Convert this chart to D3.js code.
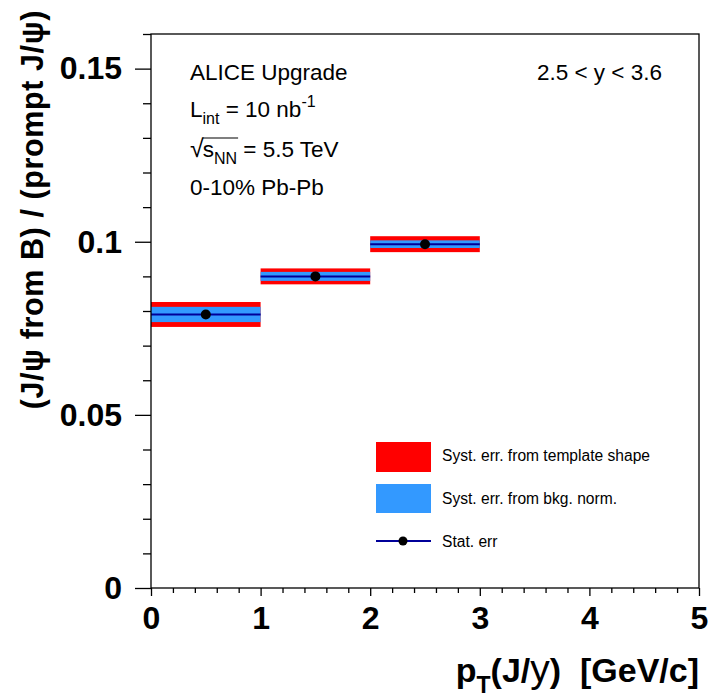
<!DOCTYPE html>
<html>
<head>
<meta charset="utf-8">
<script src="https://cdn.jsdelivr.net/npm/d3@7"></script>
<style>
  body { margin: 0; background: #fff; }
  text { font-family: "Liberation Sans", Arial, Helvetica, sans-serif; }
</style>
</head>
<body>
<svg id="chart" width="711" height="697"></svg>
<script>
// pT bins of the J/psi (GeV/c)
const binLo = [0, 1, 2];
const binHi = [1, 2, 3];
// non-prompt / prompt J/psi ratio per bin
const ratio = [0.0790, 0.0900, 0.0993];
// half-widths of the error bands
const errTemplate = [0.0036, 0.0023, 0.0023];
const errBkg = [0.0022, 0.0013, 0.0011];
const errStat = [0.0003, 0.0003, 0.0003];

const xMajor = [0, 1, 2, 3, 4, 5];
const yMajor = [0, 0.05, 0.1, 0.15];
const yMajorLabels = ["0", "0.05", "0.1", "0.15"];

const legendLabels = ["Syst. err. from template shape", "Syst. err. from bkg. norm.", "Stat. err"];

const RED = "#ff0000", BLUE = "#3399ff", NAVY = "#000099";

const svg = d3.select("#chart");
const x = d3.scaleLinear().domain([0, 5]).range([151, 699]);
const y = d3.scaleLinear().domain([0, 0.16]).range([588, 34]);

const bins = binLo.map((lo, i) => ({
  lo, hi: binHi[i], v: ratio[i], t: errTemplate[i], b: errBkg[i], s: errStat[i]
}));

// error bands
const g = svg.append("g");
g.selectAll("rect.tmpl").data(bins).join("rect").attr("class", "tmpl")
  .attr("x", d => x(d.lo)).attr("width", d => x(d.hi) - x(d.lo))
  .attr("y", d => y(d.v + d.t)).attr("height", d => y(d.v - d.t) - y(d.v + d.t))
  .attr("fill", RED);
g.selectAll("rect.bkg").data(bins).join("rect").attr("class", "bkg")
  .attr("x", d => x(d.lo)).attr("width", d => x(d.hi) - x(d.lo))
  .attr("y", d => y(d.v + d.b)).attr("height", d => y(d.v - d.b) - y(d.v + d.b))
  .attr("fill", BLUE);
// bin-width line and statistical error
g.selectAll("line.bw").data(bins).join("line").attr("class", "bw")
  .attr("x1", d => x(d.lo)).attr("x2", d => x(d.hi))
  .attr("y1", d => y(d.v)).attr("y2", d => y(d.v))
  .attr("stroke", NAVY).attr("stroke-width", 2);
g.selectAll("line.st").data(bins).join("line").attr("class", "st")
  .attr("x1", d => x((d.lo + d.hi) / 2)).attr("x2", d => x((d.lo + d.hi) / 2))
  .attr("y1", d => y(d.v + d.s)).attr("y2", d => y(d.v - d.s))
  .attr("stroke", NAVY).attr("stroke-width", 2);
g.selectAll("circle").data(bins).join("circle")
  .attr("cx", d => x((d.lo + d.hi) / 2)).attr("cy", d => y(d.v))
  .attr("r", 5).attr("fill", "#000");

// frame
svg.append("rect")
  .attr("x", x(0)).attr("y", y(0.16))
  .attr("width", x(5) - x(0)).attr("height", y(0) - y(0.16))
  .attr("fill", "none").attr("stroke", "#000").attr("stroke-width", 1.3);

// x axis
const xMinor = d3.range(0, 5.001, 0.2).filter(v => Math.abs(v - Math.round(v)) > 1e-6);
const xAxisMinor = svg.append("g").attr("transform", `translate(0,${y(0)})`)
  .call(d3.axisBottom(x).tickValues(xMinor).tickSize(5).tickFormat(""));
const xAxis = svg.append("g").attr("transform", `translate(0,${y(0)})`)
  .call(d3.axisBottom(x).tickValues(xMajor).tickSize(8).tickPadding(10).tickFormat(d3.format("d")));
[xAxisMinor, xAxis].forEach(a => {
  a.select(".domain").remove();
  a.selectAll("line").attr("stroke", "#000").attr("stroke-width", 1.3);
});
xAxis.selectAll("text").attr("font-size", 32).attr("font-weight", "bold").attr("fill", "#000");

// y axis
const yMinor = d3.range(0, 0.1601, 0.01).filter(v => Math.abs(v / 0.05 - Math.round(v / 0.05)) > 1e-6);
const yAxisMinor = svg.append("g").attr("transform", `translate(${x(0)},0)`)
  .call(d3.axisLeft(y).tickValues(yMinor).tickSize(8).tickFormat(""));
const yAxis = svg.append("g").attr("transform", `translate(${x(0)},0)`)
  .call(d3.axisLeft(y).tickValues(yMajor).tickSize(16).tickPadding(13)
    .tickFormat((d, i) => yMajorLabels[i]));
[yAxisMinor, yAxis].forEach(a => {
  a.select(".domain").remove();
  a.selectAll("line").attr("stroke", "#000").attr("stroke-width", 1.3);
});
yAxis.selectAll("text").attr("font-size", 32).attr("font-weight", "bold").attr("fill", "#000");

// axis titles
const xt = svg.append("text").attr("x", 699).attr("y", 682)
  .attr("text-anchor", "end").attr("font-size", 34).attr("font-weight", "bold");
xt.append("tspan").text("p");
xt.append("tspan").attr("dy", 11).attr("font-size", 23).text("T");
xt.append("tspan").attr("dy", -11).text("(J/");
xt.append("tspan").attr("font-weight", "normal").attr("font-size", 39).text("y");
xt.append("tspan").text(")\u00a0\u00a0[GeV/c]");

svg.append("text")
  .attr("transform", "translate(43,10) rotate(-90)")
  .attr("text-anchor", "end").attr("font-size", 30.5).attr("font-weight", "bold")
  .attr("letter-spacing", 0.6)
  .text("(J/\u03c8 from B) / (prompt J/\u03c8)");

// annotations
const ann = svg.append("g").attr("font-size", 22.5);
ann.append("text").attr("x", 190).attr("y", 80).text("ALICE Upgrade");
const l2 = ann.append("text").attr("x", 190).attr("y", 117);
l2.append("tspan").text("L");
l2.append("tspan").attr("dy", 7).attr("font-size", 16).text("int");
l2.append("tspan").attr("dy", -7).text(" = 10 nb");
l2.append("tspan").attr("dy", -10).attr("font-size", 16).text("-1");
const l3 = ann.append("text").attr("x", 190).attr("y", 157);
l3.append("tspan").attr("font-size", 25).text("\u221a");
l3.append("tspan").attr("dx", -1).text("s");
l3.append("tspan").attr("dy", 7).attr("font-size", 16).text("NN");
l3.append("tspan").attr("dy", -7).text(" = 5.5 TeV");
// radical overline across s_NN
const l3n = l3.node();
const ovX2 = l3n.getEndPositionOfChar(3).x + 1;
const radX = l3n.getEndPositionOfChar(0).x;
svg.append("line").attr("x1", radX - 1).attr("x2", ovX2)
  .attr("y1", 138).attr("y2", 138).attr("stroke", "#000").attr("stroke-width", 1.2);
ann.append("text").attr("x", 190).attr("y", 195).text("0-10% Pb-Pb");
ann.append("text").attr("x", 662).attr("y", 80).attr("text-anchor", "end").text("2.5 < y < 3.6");

// legend
const lg = svg.append("g");
lg.append("rect").attr("x", 376).attr("y", 442).attr("width", 55).attr("height", 30).attr("fill", RED);
lg.append("rect").attr("x", 376).attr("y", 484).attr("width", 55).attr("height", 29).attr("fill", BLUE);
lg.append("line").attr("x1", 376).attr("x2", 431).attr("y1", 541).attr("y2", 541)
  .attr("stroke", NAVY).attr("stroke-width", 2);
lg.append("circle").attr("cx", 403).attr("cy", 541).attr("r", 4.5).attr("fill", "#000");
const ly = [461, 504, 547];
lg.selectAll("text.lab").data(legendLabels).join("text").attr("class", "lab")
  .attr("x", 442).attr("y", (d, i) => ly[i]).attr("font-size", 15.6).text(d => d);
</script>
</body>
</html>
